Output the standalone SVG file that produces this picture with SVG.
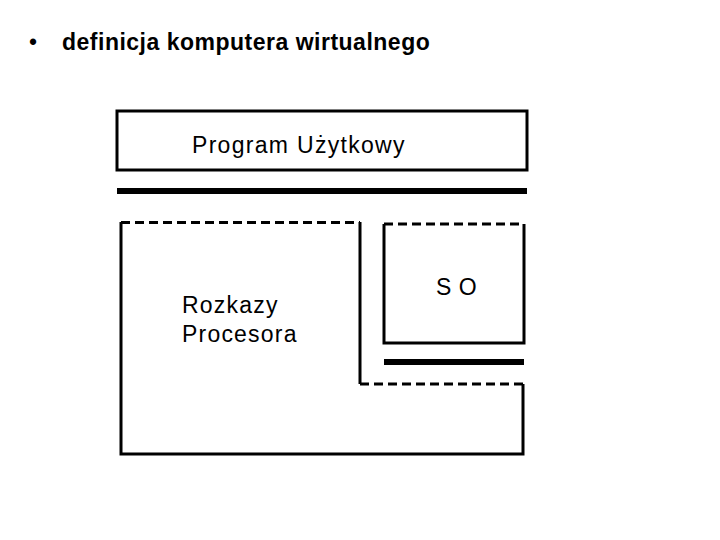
<svg xmlns="http://www.w3.org/2000/svg" width="720" height="540" viewBox="0 0 720 540">
<style>
.t{font-family:"Liberation Sans",Arial,sans-serif;fill:#000;font-size:23px}
.s{fill:none;stroke:#000;stroke-width:3}
.d{fill:none;stroke:#000;stroke-width:3;stroke-dasharray:9,5}
.b{stroke:#000;stroke-width:6}
</style>
<rect width="720" height="540" fill="#fff"/>
<g id="title">
<text class="t" x="29" y="50">•</text>
<text class="t" x="62" y="50" font-weight="bold" letter-spacing="0.5">definicja komputera wirtualnego</text>
</g>
<g id="program">
<rect class="s" x="117" y="111" width="410" height="59"/>
<text class="t" x="192" y="153" font-size="24" letter-spacing="1.3">Program Użytkowy</text>
</g>
<g id="connectors">
<line class="b" x1="117" y1="191" x2="527" y2="191"/>
<line class="b" x1="384" y1="362" x2="524" y2="362" stroke-width="5"/>
</g>
<g id="procesor">
<path class="d" d="M121 222.5 H360"/>
<path class="d" d="M360 384 H523"/>
<path class="s" d="M121 222 V454 H523 V384 M360 222 V384"/>
<text class="t" x="182" y="313" letter-spacing="1.2">Rozkazy</text>
<text class="t" x="182" y="342" letter-spacing="1.2">Procesora</text>
</g>
<g id="so">
<path class="d" d="M384 224 H524"/>
<path class="s" d="M384 224 V343 H524 V224"/>
<text class="t" x="436" y="295" font-size="20" letter-spacing="0.5">S O</text>
</g>
</svg>
